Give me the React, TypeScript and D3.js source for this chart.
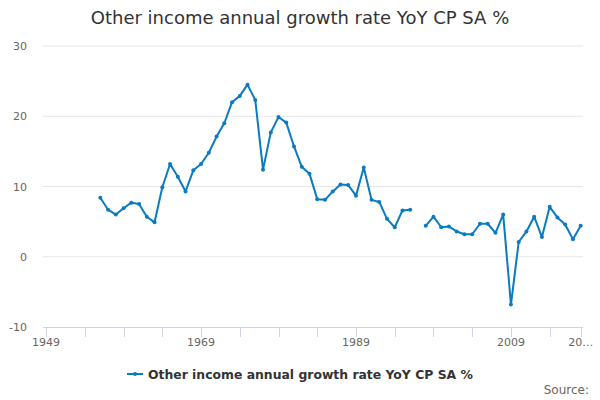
import { useEffect, useRef } from "react";
import * as d3 from "d3";

const years: number[] = d3.range(1956, 2019);
const values: (number | null)[] = [
  8.4, 6.7, 6.0, 6.9, 7.7, 7.5, 5.7, 4.9, 9.9, 13.2, // 1956-1965
  11.4, 9.3, 12.3, 13.2, 14.8, 17.1, 19.0, 22.0, 22.9, 24.5, // 1966-1975
  22.3, 12.4, 17.7, 19.9, 19.1, 15.7, 12.8, 11.8, 8.2, 8.1, // 1976-1985
  9.3, 10.3, 10.2, 8.7, 12.7, 8.1, 7.8, 5.4, 4.2, 6.6, // 1986-1995
  6.7, null, 4.4, 5.7, 4.2, 4.3, 3.6, 3.2, 3.2, 4.7, // 1996-2005
  4.7, 3.4, 6.0, -6.8, 2.1, 3.6, 5.7, 2.8, 7.1, 5.6, // 2006-2015
  4.6, 2.5, 4.4, // 2016-2018
];

const yTicks = [-10, 0, 10, 20, 30];
const xTicks = [1949, 1954, 1959, 1964, 1969, 1974, 1979, 1984, 1989, 1994, 1999, 2004, 2009, 2014, 2018];
const xLabels: Record<number, string> = { 1949: "1949", 1969: "1969", 1989: "1989", 2009: "2009", 2018: "20…" };

const TITLE = "Other income annual growth rate YoY CP SA %";
const COLOR = "#0a7bc1";

export default function App() {
  const svgRef = useRef<SVGSVGElement>(null);

  useEffect(() => {
    if (!svgRef.current) return;
    const width = 600;
    const left = 43;
    const right = 583;
    const top = 46;
    const bottom = 327;

    const svg = d3.select(svgRef.current);
    svg.selectAll("*").remove();

    const x = d3.scaleLinear().domain([1948.6, 2018.3]).range([left, right]);
    const y = d3.scaleLinear().domain([-10, 30]).range([bottom, top]);

    svg
      .append("text")
      .attr("x", width / 2)
      .attr("y", 24)
      .attr("text-anchor", "middle")
      .attr("font-size", 18)
      .attr("fill", "#333")
      .text(TITLE);

    // grid + y labels
    const yg = svg.append("g");
    yg.selectAll("line")
      .data(yTicks.filter((t) => t !== -10))
      .join("line")
      .attr("x1", left)
      .attr("x2", right)
      .attr("y1", (d) => y(d))
      .attr("y2", (d) => y(d))
      .attr("stroke", "#e6e6e6");
    yg.selectAll("text")
      .data(yTicks)
      .join("text")
      .attr("x", 27)
      .attr("y", (d) => y(d) + 4)
      .attr("text-anchor", "end")
      .attr("font-size", 11)
      .attr("fill", "#666")
      .text((d) => d);

    // x axis
    const xg = svg.append("g");
    xg.append("line")
      .attr("x1", left)
      .attr("x2", right)
      .attr("y1", bottom + 0.5)
      .attr("y2", bottom + 0.5)
      .attr("stroke", "#ccd6eb");
    xg.selectAll("line.tick")
      .data(xTicks)
      .join("line")
      .attr("class", "tick")
      .attr("x1", (d) => Math.round(x(d)) + 0.5)
      .attr("x2", (d) => Math.round(x(d)) + 0.5)
      .attr("y1", bottom)
      .attr("y2", bottom + 10)
      .attr("stroke", "#ccd6eb");
    xg.selectAll("text")
      .data(xTicks.filter((t) => xLabels[t]))
      .join("text")
      .attr("x", (d) => x(d))
      .attr("y", bottom + 19)
      .attr("text-anchor", "middle")
      .attr("font-size", 11)
      .attr("fill", "#666")
      .text((d) => xLabels[d]);

    const pts = years.map((yr, i) => ({ yr, v: values[i] }));
    const line = d3
      .line<{ yr: number; v: number | null }>()
      .defined((d) => d.v !== null)
      .x((d) => x(d.yr))
      .y((d) => y(d.v as number));

    svg
      .append("path")
      .datum(pts)
      .attr("d", line)
      .attr("fill", "none")
      .attr("stroke", COLOR)
      .attr("stroke-width", 2)
      .attr("stroke-linejoin", "round");

    svg
      .append("g")
      .selectAll("circle")
      .data(pts.filter((d) => d.v !== null))
      .join("circle")
      .attr("cx", (d) => x(d.yr))
      .attr("cy", (d) => y(d.v as number))
      .attr("r", 2)
      .attr("fill", COLOR);

    // legend
    const lg = svg.append("g");
    lg.append("line")
      .attr("x1", 127)
      .attr("x2", 143)
      .attr("y1", 374)
      .attr("y2", 374)
      .attr("stroke", COLOR)
      .attr("stroke-width", 2);
    lg.append("circle").attr("cx", 135).attr("cy", 374).attr("r", 2).attr("fill", COLOR);
    lg.append("text")
      .attr("x", 148)
      .attr("y", 378.5)
      .attr("font-size", 12.4)
      .attr("font-weight", "bold")
      .attr("fill", "#333")
      .text(TITLE);

    svg
      .append("text")
      .attr("x", 589)
      .attr("y", 394)
      .attr("text-anchor", "end")
      .attr("font-size", 12)
      .attr("fill", "#666")
      .text("Source:");
  }, []);

  return (
    <svg
      ref={svgRef}
      width={600}
      height={400}
      style={{ position: "absolute", left: 0, top: 0, fontFamily: "'DejaVu Sans', sans-serif", background: "#fff" }}
    />
  );
}
